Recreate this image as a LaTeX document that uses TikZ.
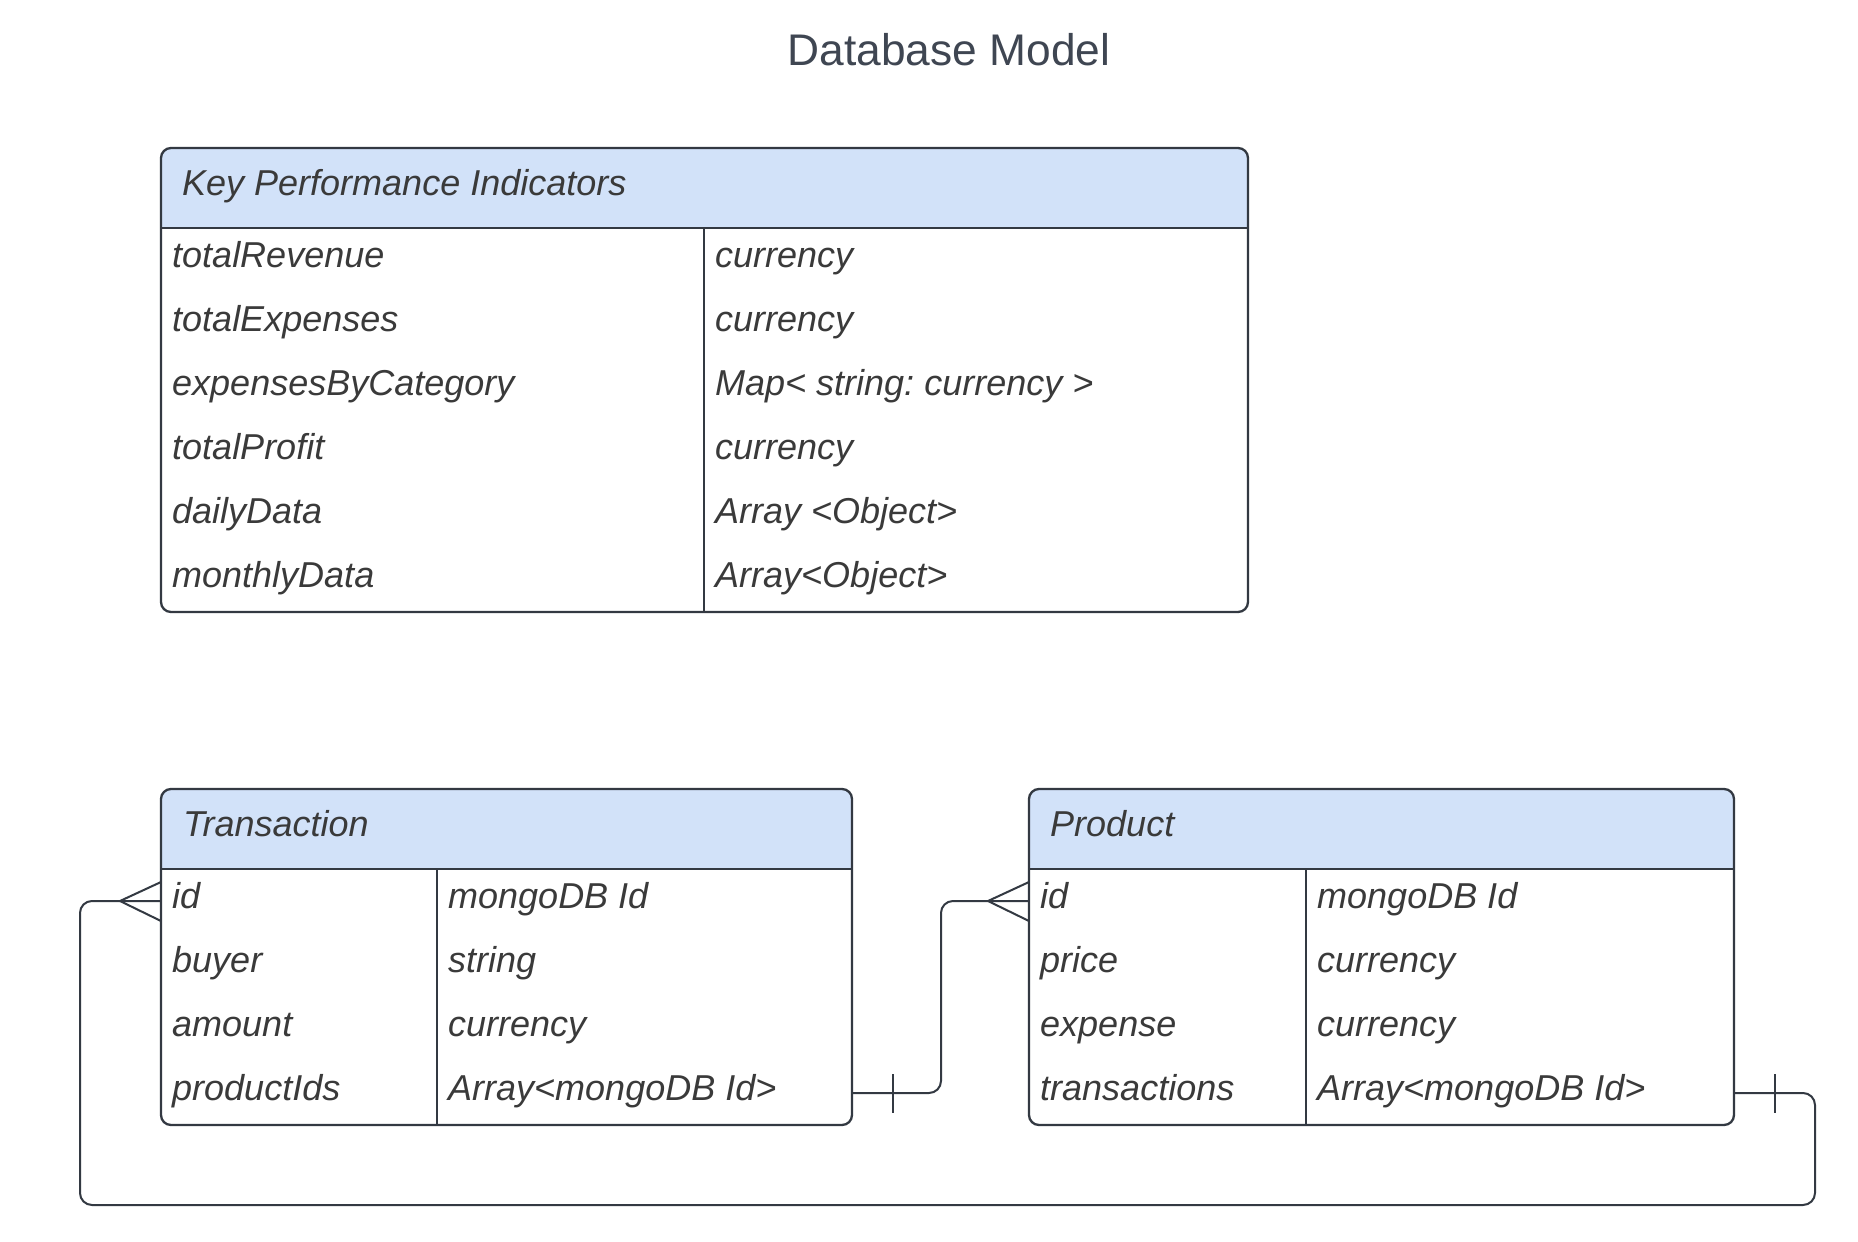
\documentclass[tikz,border=0pt]{standalone}
\usepackage{fontspec}
\setmainfont{Liberation Sans}
\usetikzlibrary{calc}
\frenchspacing
\definecolor{hdrblue}{HTML}{D2E2F9}
\definecolor{linecol}{HTML}{333942}
\definecolor{txtcol}{HTML}{3A3A3A}
\definecolor{titlecol}{HTML}{3F4652}
\tikzset{
  cell/.style={anchor=base west, inner sep=0pt, text=txtcol, font=\fontsize{36}{43}\selectfont\itshape},
  frame/.style={draw=linecol, line width=2.3pt, rounded corners=10pt},
  rule/.style={draw=linecol, line width=2.3pt},
  conn/.style={draw=linecol, line width=2pt},
  tablearea/.style={rectangle, inner sep=0pt, outer sep=0pt, anchor=north west},
}
\begin{document}
\begin{tikzpicture}[x=1pt,y=-1pt]
\useasboundingbox[fill=white] (0,0) rectangle (1858,1242);

% title
\node[anchor=base, inner sep=0pt, text=titlecol, font=\fontsize{44.3}{53}\selectfont] (title) at (949,65) {Database Model};

% ---------- KPI table ----------
\node[tablearea, minimum width=1087pt, minimum height=464pt] (kpi) at (161,148) {};
\begin{scope}
  \clip (kpi.north west) rectangle (kpi.east |- 0,228);
  \fill[hdrblue, rounded corners=10pt] (kpi.north west) rectangle (kpi.south east);
\end{scope}
\draw[frame] (kpi.north west) rectangle (kpi.south east);
\draw[rule] (kpi.west |- 0,228) -- (kpi.east |- 0,228);
\draw[rule] (704,228) -- (kpi.south -| 704,0);
\node[cell] (kpi-title) at (182,195) {Key Performance Indicators};
\foreach \a/\b [count=\i from 0] in {totalRevenue/currency, totalExpenses/currency, expensesByCategory/Map< string: currency >, totalProfit/currency, dailyData/Array <Object>, monthlyData/Array<Object>}{
  \node[cell] (kpi-k\i) at (172,267+64*\i) {\a};
  \node[cell] (kpi-v\i) at (715,267+64*\i) {\b};
}

% ---------- Transaction table ----------
\node[tablearea, minimum width=691pt, minimum height=336pt] (trans) at (161,789) {};
\begin{scope}
  \clip (trans.north west) rectangle (trans.east |- 0,869);
  \fill[hdrblue, rounded corners=10pt] (trans.north west) rectangle (trans.south east);
\end{scope}
\draw[frame] (trans.north west) rectangle (trans.south east);
\draw[rule] (trans.west |- 0,869) -- (trans.east |- 0,869);
\draw[rule] (437,869) -- (trans.south -| 437,0);
\node[cell] (trans-title) at (183,836) {Transaction};
\foreach \a/\b [count=\i from 0] in {id/mongoDB Id, buyer/string, amount/currency, productIds/Array<mongoDB Id>}{
  \node[cell] (trans-k\i) at (172,908+64*\i) {\a};
  \node[cell] (trans-v\i) at (448,908+64*\i) {\b};
}

% ---------- Product table ----------
\node[tablearea, minimum width=705pt, minimum height=336pt] (prod) at (1029,789) {};
\begin{scope}
  \clip (prod.north west) rectangle (prod.east |- 0,869);
  \fill[hdrblue, rounded corners=10pt] (prod.north west) rectangle (prod.south east);
\end{scope}
\draw[frame] (prod.north west) rectangle (prod.south east);
\draw[rule] (prod.west |- 0,869) -- (prod.east |- 0,869);
\draw[rule] (1306,869) -- (prod.south -| 1306,0);
\node[cell] (prod-title) at (1050,836) {Product};
\foreach \a/\b [count=\i from 0] in {id/mongoDB Id, price/currency, expense/currency, transactions/Array<mongoDB Id>}{
  \node[cell] (prod-k\i) at (1040,908+64*\i) {\a};
  \node[cell] (prod-v\i) at (1317,908+64*\i) {\b};
}

% ---------- connectors ----------
\coordinate (tid) at (trans.west |- 0,901);
\coordinate (pid) at (prod.west |- 0,901);
\coordinate (tpids) at (trans.east |- 0,1093);
\coordinate (ptx) at (prod.east |- 0,1093);

% Transaction.productIds -> Product.id
\draw[conn, rounded corners=12pt] (tpids) -- (941,1093) -- (941,901) -- (pid);
\draw[conn] ($(tpids)+(41,-19)$) -- ($(tpids)+(41,20)$);
\draw[conn] ($(pid)+(0,-19)$) -- ($(pid)+(-41,0)$) -- ($(pid)+(0,20)$);

% Product.transactions -> Transaction.id
\draw[conn, rounded corners=12pt] (ptx) -- (1815,1093) -- (1815,1205) -- (80,1205) -- (80,901) -- (tid);
\draw[conn] ($(ptx)+(41,-19)$) -- ($(ptx)+(41,20)$);
\draw[conn] ($(tid)+(0,-19)$) -- ($(tid)+(-41,0)$) -- ($(tid)+(0,20)$);
\end{tikzpicture}
\end{document}
